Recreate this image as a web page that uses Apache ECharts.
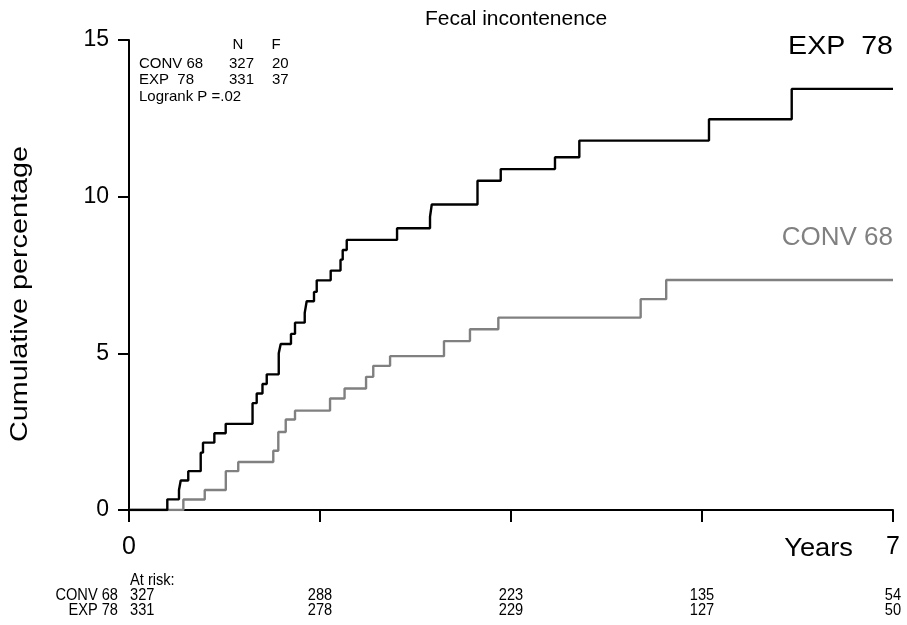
<!DOCTYPE html>
<html>
<head>
<meta charset="utf-8">
<script src="https://cdn.jsdelivr.net/npm/echarts@6/dist/echarts.min.js"></script>
<style>html,body{margin:0;padding:0;background:#fff}#c{width:907px;height:625px}</style>
</head>
<body>
<div id="c"></div>
<script>
// ---- data ----
const expTimes  = [0, 0.351, 0.458, 0.474, 0.543, 0.657, 0.678, 0.782, 0.886, 1.132, 1.170, 1.223, 1.262, 1.372, 1.390, 1.484, 1.521, 1.610, 1.628, 1.695, 1.720, 1.848, 1.938, 1.958, 1.995, 2.456, 2.758, 2.774, 3.193, 3.406, 3.903, 4.126, 5.314, 6.072, 7.0];
const expValues = [0, 0.34, 0.64, 0.94, 1.24, 1.83, 2.15, 2.45, 2.75, 3.41, 3.72, 4.02, 4.33, 5.00, 5.30, 5.62, 5.98, 6.29, 6.66, 6.96, 7.33, 7.64, 7.99, 8.30, 8.62, 8.99, 9.36, 9.75, 10.51, 10.88, 11.26, 11.79, 12.47, 13.44, 13.44];
const convTimes  = [0, 0.498, 0.694, 0.887, 1.001, 1.322, 1.368, 1.436, 1.521, 1.842, 1.975, 2.172, 2.238, 2.392, 2.886, 3.124, 3.384, 4.688, 4.922, 7.0];
const convValues = [0, 0.335, 0.64, 1.24, 1.53, 1.89, 2.49, 2.89, 3.17, 3.56, 3.88, 4.25, 4.60, 4.91, 5.39, 5.77, 6.14, 6.73, 7.34, 7.34];
const atRiskTimes = [0, 1.75, 3.5, 5.25, 7];
const atRiskConv = [327, 288, 223, 135, 54];
const atRiskExp  = [331, 278, 229, 127, 50];
const yTicks = [0, 5, 10, 15];
const xTickLabels = {0: '0', 7: '7'};
const groups = ['CONV 68', 'EXP  78'];
const groupN = [327, 331];
const groupF = [20, 37];
const logrankText = 'Logrank P =.02';

const F = '"Liberation Sans", Arial, sans-serif';
const chart = echarts.init(document.getElementById('c'), null, {renderer: 'canvas'});

const zip = (a, b) => a.map((t, i) => [t, b[i]]);

chart.setOption({
  animation: false,
  backgroundColor: '#fff',
  title: {
    text: 'Fecal incontenence', left: 511, top: 4, textAlign: 'center',
    textStyle: {fontFamily: F, fontSize: 21, fontWeight: 'normal', color: '#000'}
  },
  grid: {left: 129, right: 14, top: 40, bottom: 115},
  xAxis: {
    type: 'value', min: 0, max: 7, interval: 1.75,
    axisLine: {lineStyle: {color: '#000', width: 2}},
    axisTick: {length: 12, lineStyle: {color: '#000', width: 2}},
    splitLine: {show: false},
    axisLabel: {
      margin: 25, fontFamily: F, fontSize: 25, color: '#000',
      formatter: v => xTickLabels[v] !== undefined ? xTickLabels[v] : ''
    }
  },
  yAxis: {
    type: 'value', min: 0, max: 15, interval: 5,
    axisLine: {show: true, lineStyle: {color: '#000', width: 2}},
    axisTick: {show: true, length: 11, lineStyle: {color: '#000', width: 2}},
    splitLine: {show: false},
    axisLabel: {
      margin: 20, fontFamily: F, fontSize: 23, color: '#000',
      formatter: v => yTicks.includes(v) ? String(v) : ''
    }
  },
  series: [
    {type: 'line', step: 'end', data: zip(convTimes, convValues), showSymbol: false,
     lineStyle: {color: '#808080', width: 2.4}, z: 3},
    {type: 'line', step: 'end', data: zip(expTimes, expValues), showSymbol: false,
     lineStyle: {color: '#000', width: 2.4}, z: 4}
  ]
});

const px = t => chart.convertToPixel({xAxisIndex: 0}, t);
const gfx = [];
const txt = (text, x, y, opt, extra) => gfx.push(Object.assign({type: 'text', x, y, silent: true,
  style: Object.assign({text, fill: '#000', font: '15px ' + F, textAlign: 'left', textVerticalAlign: 'middle'}, opt || {})}, extra || {}));

// y axis title
gfx.push({type: 'text', x: 20, y: 294, rotation: Math.PI / 2, scaleX: 1.2, silent: true,
  style: {text: 'Cumulative percentage', fill: '#000', font: '24px ' + F, textAlign: 'center', textVerticalAlign: 'middle'}});
// x axis word
txt('Years', 853, 549, {font: '26px ' + F, textAlign: 'right'}, {scaleX: 1.05});
// curve labels
txt('EXP  78', 893, 47, {font: '26px ' + F, textAlign: 'right'}, {scaleX: 1.1});
txt('CONV 68', 893, 238, {font: '26px ' + F, textAlign: 'right', fill: '#808080'});
// top-left table
txt('N', 238, 45, {textAlign: 'center'});
txt('F', 276, 45, {textAlign: 'center'});
groups.forEach((g, i) => {
  const y = 64 + i * 16;
  txt(g, 139, y);
  txt(String(groupN[i]), 229, y);
  txt(String(groupF[i]), 272, y);
});
txt(logrankText, 139, 97);
// at-risk table (condensed look)
const narrow = {scaleX: 0.86};
const fr = '17px ' + F;
txt('At risk:', 130, 580, {font: fr}, narrow);
[[groups[0], atRiskConv, 595], [groups[1], atRiskExp, 610]].forEach(([g, arr, y]) => {
  txt(g.replace('  ', ' '), 118, y, {font: fr, textAlign: 'right'}, narrow);
  arr.forEach((v, i) => {
    const x = px(atRiskTimes[i]);
    txt(String(v), i === 0 ? x + 1 : x, y, {font: fr, textAlign: i === 0 ? 'left' : 'center'}, narrow);
  });
});
chart.setOption({graphic: gfx});
</script>
</body>
</html>
